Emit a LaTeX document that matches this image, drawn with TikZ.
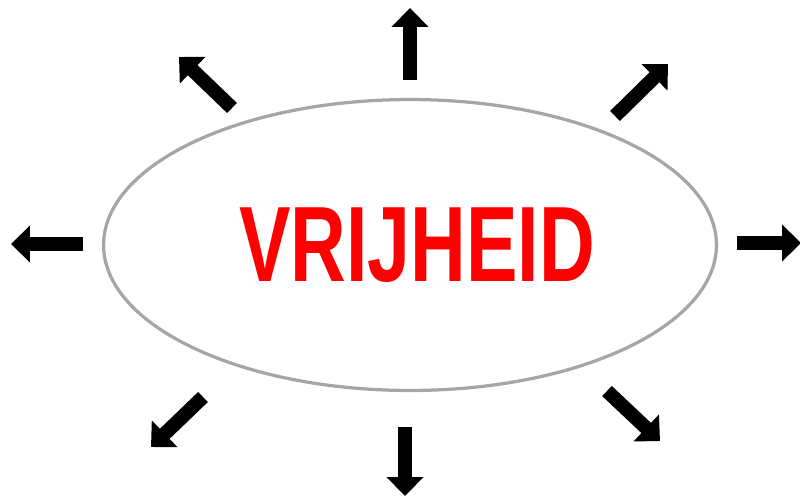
\documentclass[tikz,border=0pt]{standalone}
\usepackage{fontspec}
\setmainfont{Liberation Sans}
\usetikzlibrary{arrows.meta,shapes.geometric}
\definecolor{VRIJRed}{HTML}{FF0000}
\definecolor{VRIJRing}{HTML}{A6A6A6}
\tikzset{
  vrijring/.style={
    draw=VRIJRing,
    ellipse,
    line width=0.065cm,
    inner sep=0pt,
    minimum width=12.26cm,
    minimum height=5.82cm
  },
  vrijword/.style={
    text=VRIJRed,
    font=\bfseries\fontsize{61}{61}\selectfont,
    xscale=0.72,
    inner sep=0pt
  },
  vrijarrow/.style={-{Triangle[length=0.38cm,width=0.72cm]},draw=black,line width=0.28cm}
}
\begin{document}
\begin{tikzpicture}[x=0.02cm,y=-0.02cm]
  \useasboundingbox (0,0) rectangle (800,497);
  \node[vrijring] (ring) at (410,245) {};
  \node[vrijword] (word) at (417,245) {VRIJHEID};
  % tails and tips of the rays
  \coordinate (nTail) at (410,80);
  \coordinate (nTip) at (410,8);
  \coordinate (neTail) at (615,116);
  \coordinate (neTip) at (668,64);
  \coordinate (eTail) at (737,243);
  \coordinate (eTip) at (801,243);
  \coordinate (seTail) at (607,391);
  \coordinate (seTip) at (660,441);
  \coordinate (sTail) at (405,427);
  \coordinate (sTip) at (405,496);
  \coordinate (swTail) at (203,397);
  \coordinate (swTip) at (151,447);
  \coordinate (wTail) at (83,244);
  \coordinate (wTip) at (11,244);
  \coordinate (nwTail) at (232,108);
  \coordinate (nwTip) at (179,57);
  \draw[vrijarrow] (nTail) -- (nTip);
  \draw[vrijarrow] (neTail) -- (neTip);
  \draw[vrijarrow] (eTail) -- (eTip);
  \draw[vrijarrow] (seTail) -- (seTip);
  \draw[vrijarrow] (sTail) -- (sTip);
  \draw[vrijarrow] (swTail) -- (swTip);
  \draw[vrijarrow] (wTail) -- (wTip);
  \draw[vrijarrow] (nwTail) -- (nwTip);
\end{tikzpicture}
\end{document}
